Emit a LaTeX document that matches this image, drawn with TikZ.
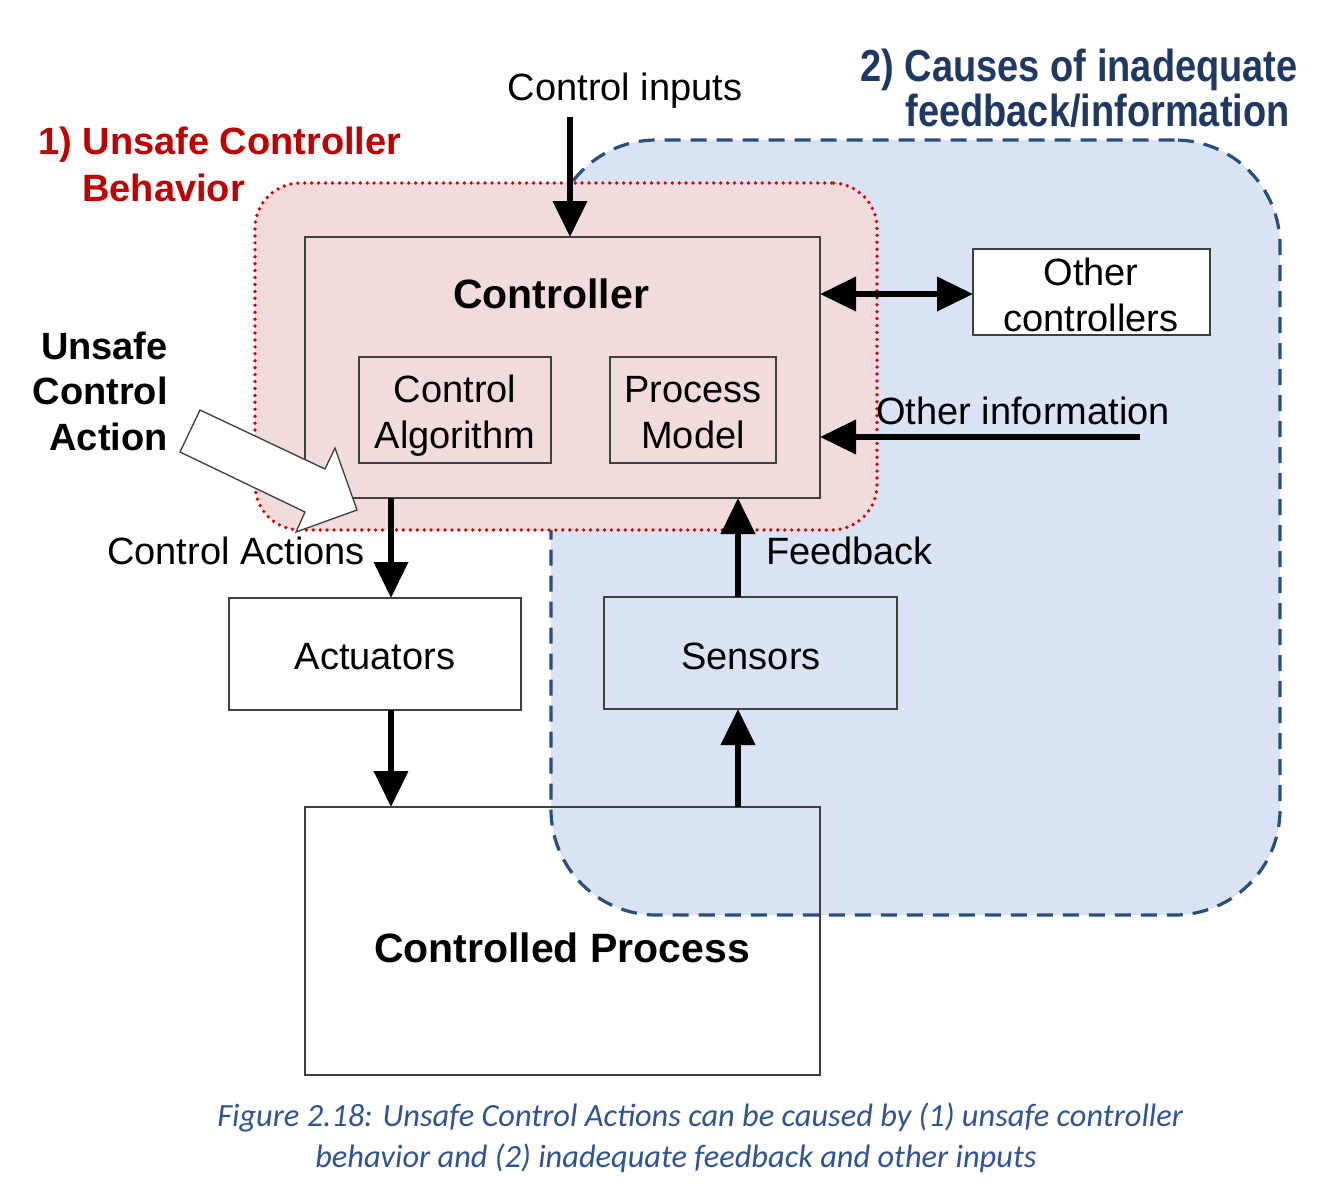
\documentclass[tikz,border=0pt]{standalone}
\usepackage{fontspec}
\setmainfont{Liberation Sans}
\newfontfamily\capfont{Carlito}
\usetikzlibrary{arrows.meta,fit}
\definecolor{pinkfill}{RGB}{242,220,219}
\definecolor{bluefill}{RGB}{218,227,243}
\definecolor{bluedash}{RGB}{40,80,125}
\definecolor{reddot}{RGB}{215,0,0}
\definecolor{redtitle}{RGB}{192,0,0}
\definecolor{bluetitle}{RGB}{32,56,100}
\definecolor{capblue}{RGB}{47,84,150}
\definecolor{boxline}{RGB}{64,64,64}
\begin{document}
\begin{tikzpicture}[x=0.75pt,y=-0.75pt,
  box/.style={draw=boxline, line width=1pt, inner sep=0pt, outer sep=0pt},
  txt/.style={font=\fontsize{28.5}{34.5}\selectfont, inner sep=0pt},
  bld/.style={font=\fontsize{30.75}{36}\selectfont\bfseries, inner sep=0pt},
  uca/.style={font=\fontsize{28.5}{34}\selectfont\bfseries, inner sep=0pt},
  redt/.style={font=\fontsize{28.5}{34}\selectfont\bfseries, text=redtitle, inner sep=0pt},
  bluet/.style={font=\fontsize{28.5}{34}\selectfont\bfseries, text=bluetitle, inner sep=0pt},
  capt/.style={font=\fontsize{24.3}{29}\selectfont\capfont\itshape, text=capblue, inner sep=0pt},
  blueregion/.style={draw=bluedash, fill=bluefill, line width=2.4pt, dash pattern=on 12pt off 7.5pt, rounded corners=79pt, inner sep=0pt},
  redregion/.style={draw=reddot, fill=pinkfill, line width=2.8pt, dash pattern=on 0pt off 5.2pt, line cap=round, rounded corners=34pt, inner sep=0pt},
  bigarrow/.style={line width=4.5pt, -{Triangle[width=25pt,length=27pt]}},
  dblarrow/.style={line width=4.5pt, {Triangle[width=25pt,length=27pt]}-{Triangle[width=25pt,length=27pt]}}
]
\useasboundingbox (0,0) rectangle (1330,1192);

% regions
\node[blueregion, fit={(551,140) (1280,915)}] (blue) {};
\node[box, fit={(305,807) (820,1075)}] (proc) {};
\node[bld, anchor=base] (proclbl) at (562,962) {Controlled Process};
\node[redregion, fit={(255,183) (877,530)}] (red) {};

% controller
\node[box, fit={(305,237) (820,498)}] (ctrl) {};
\node[bld, anchor=base] (ctrllbl) at (551,308) {Controller};
\node[box, fit={(359,357) (551,463)}] (alg) {};
\node[txt, anchor=base] (alg1) at (455,402) {Control};
\node[txt, anchor=base] (alg2) at (455,448) {Algorithm};
\node[box, fit={(610,357) (776,463)}] (pm) {};
\node[txt, anchor=base] (pm1) at (693,402) {Process};
\node[txt, anchor=base] (pm2) at (693,448) {Model};

% other boxes
\node[box, fill=white, fit={(973,249) (1210,335)}] (oc) {};
\node[txt, anchor=base] (oc1) at (1091,285) {Other};
\node[txt, anchor=base] (oc2) at (1091,331) {controllers};
\node[box, fill=white, fit={(229,598) (521,710)}] (act) {};
\node[txt, anchor=base] (actlbl) at (375,669) {Actuators};
\node[box, fit={(604,597) (897,709)}] (sens) {};
\node[txt, anchor=base] (senslbl) at (751,669) {Sensors};

% connectors
\coordinate (ciS) at (570,117);
\draw[bigarrow] (ciS) -- (ciS |- ctrl.north);
\node[txt, anchor=base] (cilbl) at (625,100) {Control inputs};

\coordinate (dY) at (0,294);
\draw[dblarrow] (ctrl.east |- dY) -- (oc.west |- dY);

\coordinate (oiS) at (1140,437);
\draw[bigarrow] (oiS) -- (oiS -| ctrl.east);
\node[txt, anchor=base] (oilbl) at (1023,424) {Other information};

\coordinate (caX) at (391,0);
\draw[bigarrow] (ctrl.south -| caX) -- (act.north -| caX);
\draw[bigarrow] (act.south -| caX) -- (proc.north -| caX);
\node[txt, anchor=base] (calbl) at (236,564) {Control Actions};

\coordinate (fbX) at (738,0);
\draw[bigarrow] (proc.north -| fbX) -- (sens.south -| fbX);
\draw[bigarrow] (sens.north -| fbX) -- (ctrl.south -| fbX);
\node[txt, anchor=base] (fblbl) at (849.5,564) {Feedback};

% titles
\node[redt, anchor=base west] (rt1) at (38,154) {1) Unsafe Controller};
\node[redt, anchor=base west] (rt2) at (82,201) {Behavior};
\node[bluet, anchor=base east] (bt1) at (1298,81) {\scalebox{1}[1.18]{2) Causes of inadequate}};
\node[bluet, anchor=base east] (bt2) at (1290,126) {\scalebox{1}[1.18]{feedback/information}};

\node[uca, anchor=base east] (u1) at (168,359) {Unsafe};
\node[uca, anchor=base east] (u2) at (168,404) {Control};
\node[uca, anchor=base east] (u3) at (168,450) {Action};

% hollow arrow
\draw[draw=boxline, line width=1pt, fill=white, line join=miter]
  (200,410) -- (325,469) -- (335,448) -- (357,510) -- (296,532) -- (305,512) -- (180,452) -- cycle;

% caption
\node[capt, anchor=base west] (cap1) at (217,1126) {Figure 2.18: Unsafe Control Actions can be caused by (1) unsafe controller};
\node[capt, anchor=base west] (cap2) at (315,1167) {behavior and (2) inadequate feedback and other inputs};
\end{tikzpicture}
\end{document}
